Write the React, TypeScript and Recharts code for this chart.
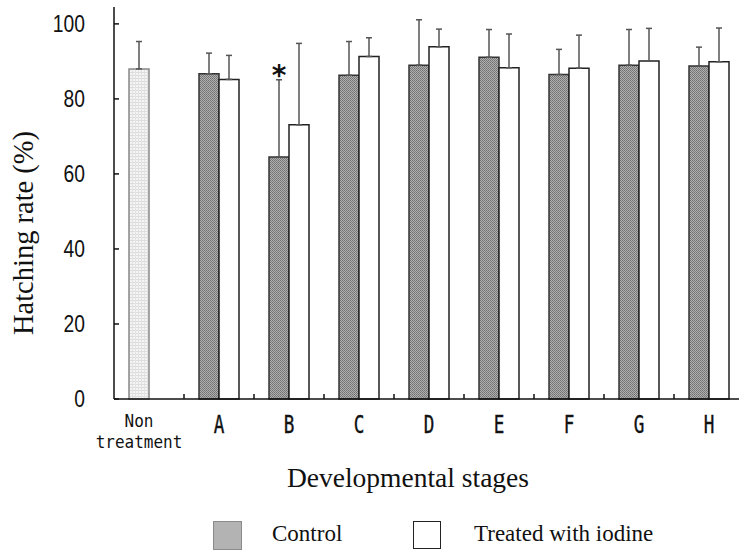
import { BarChart, Bar, XAxis, YAxis, Cell, ErrorBar, ReferenceDot } from "recharts";

// hatching rate (%) per developmental stage
const categories = ["Non treatment", "A", "B", "C", "D", "E", "F", "G", "H"];
const controlRate = [88.0, 86.7, 64.5, 86.3, 89.0, 91.1, 86.5, 89.0, 88.8];
const controlSd = [7.3, 5.5, 20.6, 9.0, 12.1, 7.4, 6.7, 9.5, 5.0];
const treatedRate = [null, 85.2, 73.1, 91.3, 93.9, 88.3, 88.2, 90.1, 89.9];
const treatedSd = [null, 6.4, 21.7, 5.0, 4.7, 9.0, 8.8, 8.7, 9.0];
const significance = ["", "", "*", "", "", "", "", "", ""];
const seriesNames = ["Control", "Treated with iodine"];
const yTicks = [0, 20, 40, 60, 80, 100];

const rows = categories.map((name, i) => ({
    name,
    control: controlRate[i],
    controlErr: [0, controlSd[i]],
    treated: treatedRate[i],
    treatedErr: treatedSd[i] == null ? null : [0, treatedSd[i]],
}));

const CHART_W = 760;
const PLOT_LEFT = 114;
const PLOT_RIGHT = 744;
const step = (PLOT_RIGHT - PLOT_LEFT) / categories.length;

const YTick = (props: any) => {
    const { x, y, payload } = props;
    return (
        <g>
            <line x1={x} x2={x + 5} y1={y} y2={y} stroke="#111" strokeWidth={1.5} />
            <g transform={`translate(${x - 29},${y}) scale(0.82,1)`}>
                <text x={0} y={0} dy="0.36em" textAnchor="end" fontFamily="Liberation Sans, Arial, sans-serif" fontSize={23.5} fill="#111">
                    {payload.value}
                </text>
            </g>
        </g>
    );
};

const XTick = (props: any) => {
    const { x, y, payload, index } = props;
    const words = String(payload.value).split(" ");
    return (
        <g>
            {index > 0 && <line x1={x - step / 2} x2={x - step / 2} y1={y} y2={y - 5} stroke="#111" strokeWidth={1.5} />}
            {words.length > 1 ? (
                words.map((w, k) => (
                    <g key={k} transform={`translate(${x - 10},${y + 28 + k * 21}) scale(0.89,1)`}>
                        <text x={0} y={0} textAnchor="middle" fontFamily="DejaVu Sans Mono, monospace" fontSize={18} fill="#111">{w}</text>
                    </g>
                ))
            ) : (
                <g transform={`translate(${x},${y + 34}) scale(0.72,1)`}>
                    <text x={0} y={0} textAnchor="middle" fontFamily="DejaVu Sans Mono, monospace" fontSize={24.5} fill="#111" stroke="#111" strokeWidth={0.4}>{payload.value}</text>
                </g>
            )}
        </g>
    );
};

const starLabel = (props: any) => {
    const { viewBox } = props;
    return (
        <text x={viewBox.x - 10} y={viewBox.y + 5} textAnchor="middle" fontFamily="DejaVu Sans, sans-serif" fontWeight="bold" fontSize={28} fill="#111">
            {significance[2]}
        </text>
    );
};

export default function App() {
    return (
        <div style={{ position: "absolute", left: 0, top: 0, width: 739, height: 552, overflow: "hidden", background: "#fff" }}>
            <BarChart width={CHART_W} height={552} data={rows} margin={{ top: 7, right: CHART_W - PLOT_RIGHT, bottom: 0, left: 0 }} barGap={0} barSize={20}>
                <defs>
                    <pattern id="ctrlFill" width="2" height="2" patternUnits="userSpaceOnUse">
                        <rect width="2" height="2" fill="#b0b0b0" />
                        <rect width="1" height="1" fill="#707070" />
                        <rect x="1" y="1" width="1" height="1" fill="#7c7c7c" />
                    </pattern>
                    <pattern id="nonFill" width="3" height="3" patternUnits="userSpaceOnUse">
                        <rect width="3" height="3" fill="#f4f4f4" />
                        <rect width="3" height="1" fill="#dcdcdc" />
                        <rect width="1" height="3" fill="#e2e2e2" />
                    </pattern>
                </defs>
                <XAxis
                    dataKey="name"
                    height={153}
                    interval={0}
                    tick={<XTick />}
                    tickLine={false}
                    tickSize={0}
                    tickMargin={0}
                    axisLine={{ stroke: "#111", strokeWidth: 1.5 }}
                    label={() => (
                        <text x={408} y={487} textAnchor="middle" fontFamily="Liberation Serif, Times New Roman, serif" fontSize={27.5} fill="#111">
                            Developmental stages
                        </text>
                    )}
                />
                <YAxis
                    width={PLOT_LEFT}
                    domain={[0, 104.5]}
                    ticks={yTicks}
                    tick={<YTick />}
                    tickLine={false}
                    tickSize={0}
                    tickMargin={0}
                    axisLine={{ stroke: "#111", strokeWidth: 1.5 }}
                    label={() => (
                        <text x={0} y={0} transform="translate(33,233) rotate(-90)" textAnchor="middle" fontFamily="Liberation Serif, Times New Roman, serif" fontSize={28.5} fill="#111">
                            Hatching rate (%)
                        </text>
                    )}
                />
                <Bar dataKey="control" name={seriesNames[0]} strokeWidth={1.5} isAnimationActive={false}>
                    {rows.map((r, i) => (
                        <Cell key={i} fill={i === 0 ? "url(#nonFill)" : "url(#ctrlFill)"} stroke={i === 0 ? "#888" : "#333"} />
                    ))}
                    <ErrorBar dataKey="controlErr" direction="y" width={3} stroke="#555" strokeWidth={1.5} />
                </Bar>
                <Bar dataKey="treated" name={seriesNames[1]} fill="#fff" stroke="#222" strokeWidth={1.5} isAnimationActive={false}>
                    <ErrorBar dataKey="treatedErr" direction="y" width={3} stroke="#555" strokeWidth={1.5} />
                </Bar>
                <ReferenceDot x={categories[2]} y={controlRate[2] + controlSd[2]} r={0} fill="none" stroke="none" label={starLabel} />
            </BarChart>
            <div style={{ position: "absolute", left: 213, top: 521, width: 27, height: 27, background: "#b3b3b3", border: "1px solid #8a8a8a" }} />
            <div style={{ position: "absolute", left: 272, top: 519, fontFamily: "Liberation Serif, Times New Roman, serif", fontSize: 23, lineHeight: "30px", color: "#111" }}>
                {seriesNames[0]}
            </div>
            <div style={{ position: "absolute", left: 413, top: 521, width: 26, height: 26, background: "#fff", border: "1.5px solid #222" }} />
            <div style={{ position: "absolute", left: 474, top: 519, fontFamily: "Liberation Serif, Times New Roman, serif", fontSize: 23, lineHeight: "30px", color: "#111" }}>
                {seriesNames[1]}
            </div>
        </div>
    );
}
